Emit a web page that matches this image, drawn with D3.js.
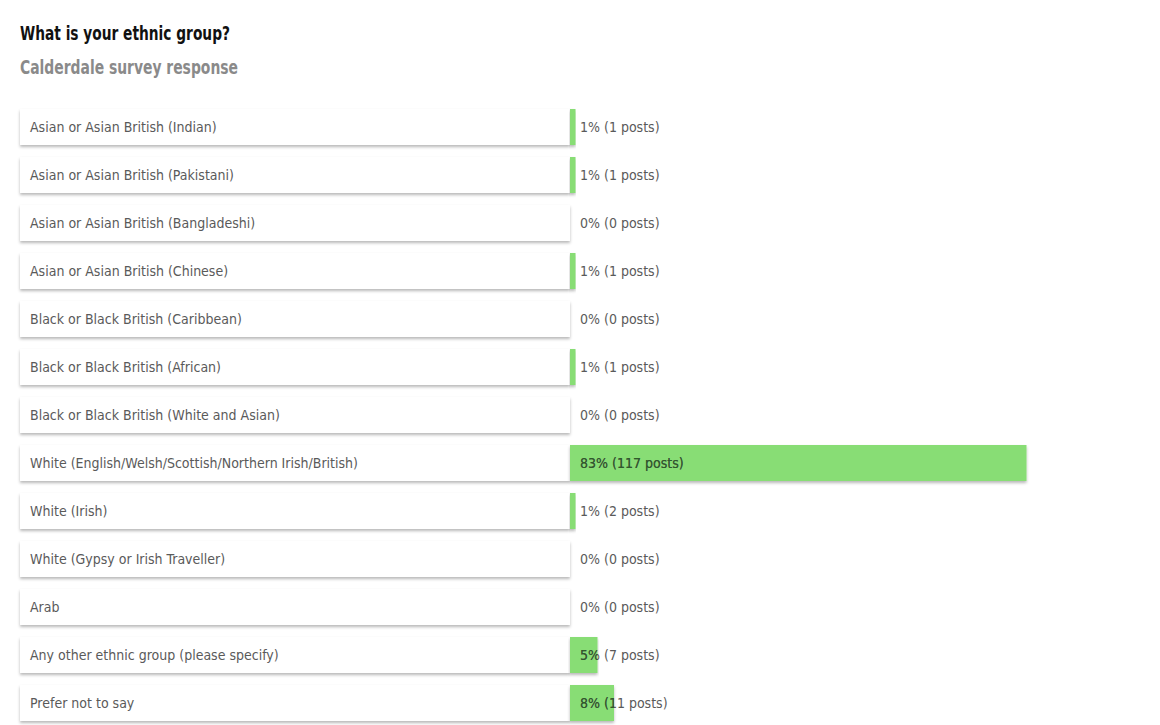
<!DOCTYPE html>
<html>
<head>
<meta charset="utf-8">
<script src="https://cdn.jsdelivr.net/npm/d3@7"></script>
<style>
  body { margin: 0; background: #fff; font-family: "DejaVu Sans Condensed", "Liberation Sans", sans-serif; }
</style>
</head>
<body>
<div id="chart"></div>
<script>
// survey answers
const categories = [
  "Asian or Asian British (Indian)",
  "Asian or Asian British (Pakistani)",
  "Asian or Asian British (Bangladeshi)",
  "Asian or Asian British (Chinese)",
  "Black or Black British (Caribbean)",
  "Black or Black British (African)",
  "Black or Black British (White and Asian)",
  "White (English/Welsh/Scottish/Northern Irish/British)",
  "White (Irish)",
  "White (Gypsy or Irish Traveller)",
  "Arab",
  "Any other ethnic group (please specify)",
  "Prefer not to say"
];
const percents = [1, 1, 0, 1, 0, 1, 0, 83, 1, 0, 0, 5, 8];
const posts = [1, 1, 0, 1, 0, 1, 0, 117, 2, 0, 0, 7, 11];

const title = "What is your ethnic group?";
const subtitle = "Calderdale survey response";

const width = 1160, height = 725;
const labelX = 20, labelW = 550, barX = 570;
const rowTop = 109, rowStep = 48, rowH = 36;

const svg = d3.select('#chart').append('svg')
    .attr('width', width)
    .attr('height', height);

// soft shadow under the boxes
const defs = svg.append('defs');
const f = defs.append('filter').attr('id', 'shadow')
    .attr('x', '-5%').attr('y', '-30%').attr('width', '110%').attr('height', '170%');
f.append('feDropShadow')
    .attr('dx', 0).attr('dy', 2).attr('stdDeviation', 1.6)
    .attr('flood-color', '#000').attr('flood-opacity', 0.28);

// the original font is narrow, so squeeze to the same width
svg.append('text')
    .attr('x', 20).attr('y', 40)
    .attr('font-size', 20).attr('font-weight', 'bold').attr('fill', '#111')
    .attr('textLength', 210).attr('lengthAdjust', 'spacingAndGlyphs')
    .text(title);
svg.append('text')
    .attr('x', 20).attr('y', 74)
    .attr('font-size', 20).attr('font-weight', 'bold').attr('fill', '#8a8a8a')
    .attr('textLength', 218).attr('lengthAdjust', 'spacingAndGlyphs')
    .text(subtitle);

const data = categories.map((c, i) => ({ cat: c, pct: percents[i], n: posts[i], i }));

const pad = (rowStep - rowH) / rowStep;
const y = d3.scaleBand()
    .domain(categories)
    .range([rowTop, rowTop + rowStep * (categories.length - 1) + rowH])
    .paddingInner(pad)
    .paddingOuter(0)
    .align(0);
// 100% takes half of the 1100px plot width
const x = d3.scaleLinear().domain([0, 100]).range([0, 550]);

const rows = svg.selectAll('g.row')
    .data(data)
    .enter()
    .append('g')
    .attr('class', 'row')
    .attr('transform', d => `translate(0, ${y(d.cat)})`);

rows.append('rect')
    .attr('x', labelX).attr('y', 0)
    .attr('width', labelW).attr('height', y.bandwidth())
    .attr('fill', '#fff')
    .attr('filter', 'url(#shadow)');

rows.append('text')
    .attr('x', labelX + 10).attr('y', y.bandwidth() / 2)
    .attr('dy', '0.35em')
    .attr('font-size', 14).attr('fill', '#5a5a5a')
    .text(d => d.cat);

rows.filter(d => d.pct > 0).append('rect')
    .attr('x', barX).attr('y', 0)
    .attr('width', d => Math.max(5, x(d.pct)))
    .attr('height', y.bandwidth())
    .attr('fill', '#88dd74')
    .attr('filter', 'url(#shadow)');

const valueText = d => `${d.pct}% (${d.n} posts)`;

rows.append('text')
    .attr('x', barX + 10).attr('y', y.bandwidth() / 2)
    .attr('dy', '0.35em')
    .attr('font-size', 14).attr('fill', '#5a5a5a')
    .text(valueText);

// darker copy of the value text, clipped to the bar
rows.filter(d => d.pct > 0).each(function(d) {
    defs.append('clipPath').attr('id', 'clip' + d.i)
        .append('rect')
        .attr('x', barX).attr('y', 0)
        .attr('width', Math.max(5, x(d.pct))).attr('height', y.bandwidth());
    d3.select(this).append('text')
        .attr('x', barX + 10).attr('y', y.bandwidth() / 2)
        .attr('dy', '0.35em')
        .attr('font-size', 14).attr('fill', '#2f5a2a')
        .attr('clip-path', `url(#clip${d.i})`)
        .text(valueText(d));
});
</script>
</body>
</html>
